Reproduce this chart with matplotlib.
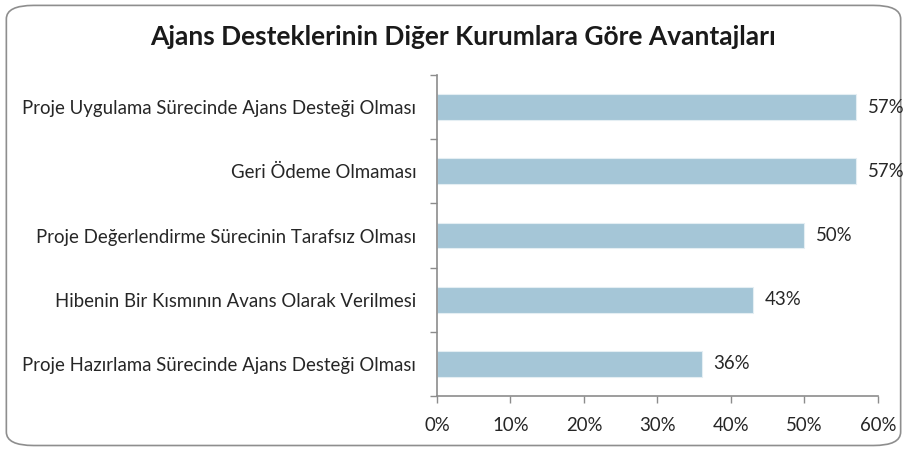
import numpy as np
import matplotlib.pyplot as plt
from matplotlib.patches import FancyBboxPatch
from matplotlib.ticker import FuncFormatter

plt.rcParams['font.family'] = ['Lato', 'DejaVu Sans']

categories = [
    'Proje Uygulama Sürecinde Ajans Desteği Olması',
    'Geri Ödeme Olmaması',
    'Proje Değerlendirme Sürecinin Tarafsız Olması',
    'Hibenin Bir Kısmının Avans Olarak Verilmesi',
    'Proje Hazırlama Sürecinde Ajans Desteği Olması',
]
values = [57, 57, 50, 43, 36]
title = 'Ajans Desteklerinin Diğer Kurumlara Göre Avantajları'

bar_color = '#A5C6D7'
axis_color = '#8C8C8C'
text_color = '#262626'
fs = 13.4

fig = plt.figure(figsize=(9.07, 4.5), dpi=100)

# rounded frame round the whole chart area
frame = FancyBboxPatch((0.007, 0.01), 0.986, 0.978,
                       boxstyle='round,pad=0,rounding_size=0.03',
                       transform=fig.transFigure, facecolor='none',
                       edgecolor='#8E8E8E', linewidth=1.2, zorder=-1)
fig.patches.append(frame)

ax = fig.add_axes([0.4818, 0.12, 0.4862, 0.7133])
ax.set_facecolor('none')

y = np.arange(len(categories))[::-1]
ax.barh(y, values, height=0.4, color=bar_color, edgecolor='#E4EEF3',
        linewidth=0.8, zorder=2)

for yi, v in zip(y, values):
    ax.text(v + 1.6, yi, f'{v}%', va='center', ha='left',
            fontsize=fs, color=text_color)

ax.set_xlim(0, 60)
ax.set_ylim(-0.5, len(categories) - 0.5)
ax.set_xticks(np.arange(0, 61, 10))
ax.xaxis.set_major_formatter(FuncFormatter(lambda v, p: f'{v:.0f}%'))

# category labels between boundary ticks, Excel style
ax.set_yticks(np.arange(-0.5, len(categories), 1.0))
ax.set_yticklabels([])
ax.set_yticks(y, minor=True)
ax.set_yticklabels(categories, minor=True)
ax.tick_params(axis='y', which='minor', length=0, pad=15,
               labelsize=fs, labelcolor=text_color)
ax.tick_params(axis='y', which='major', length=5, width=1,
               color=axis_color, direction='out')
ax.tick_params(axis='x', length=5, width=1, color=axis_color,
               direction='out', labelsize=fs, labelcolor=text_color, pad=10)

for side in ['top', 'right']:
    ax.spines[side].set_visible(False)
for side in ['left', 'bottom']:
    ax.spines[side].set_color(axis_color)
    ax.spines[side].set_linewidth(1.2)

fig.text(0.51, 0.918, title, ha='center', va='center', fontsize=19,
         fontweight='bold', color='#1a1a1a')

fig.savefig('out.png', dpi=100)
